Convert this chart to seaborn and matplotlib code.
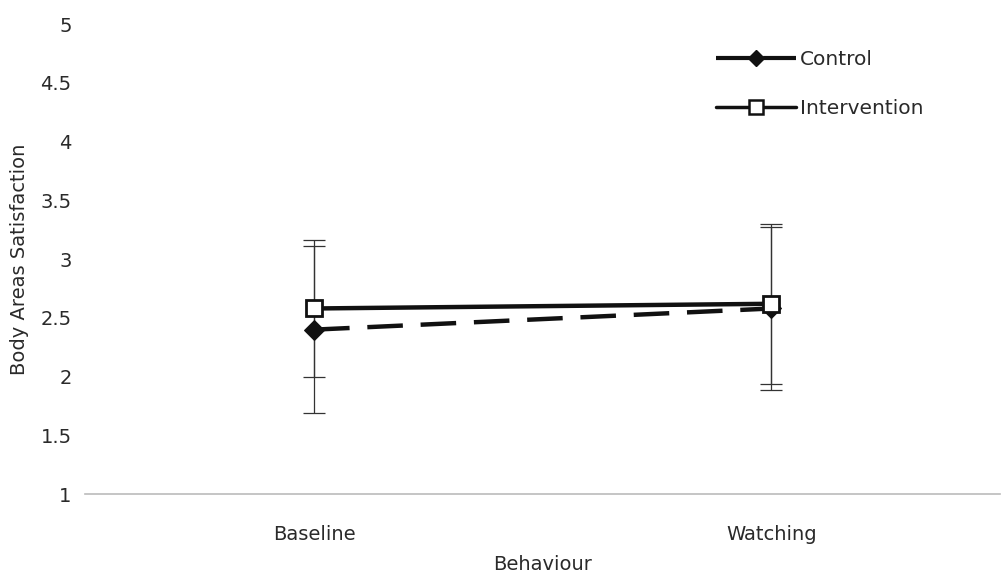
import matplotlib
matplotlib.use("Agg")
import matplotlib.pyplot as plt
import seaborn as sns
import pandas as pd
import numpy as np
from matplotlib.lines import Line2D

categories = ["Baseline", "Watching"]
control_mean = [2.40, 2.58]
control_sd = [0.71, 0.69]
intervention_mean = [2.58, 2.62]
intervention_sd = [0.58, 0.68]
yticks = [1, 1.5, 2, 2.5, 3, 3.5, 4, 4.5, 5]

sns.set_theme(style="white")
plt.rcParams['font.family'] = ['DejaVu Sans']

TXT = "#2a2a2a"
FS = 14

df = pd.DataFrame({
    "Behaviour": list(range(len(categories))) * 2,
    "value": control_mean + intervention_mean,
    "group": ["Control"] * 2 + ["Intervention"] * 2,
})

fig = plt.figure(figsize=(10.05, 5.72), dpi=100)
ax = fig.add_axes([0.085, 0.136, 0.91, 0.822])

x = np.arange(len(categories))
ax.errorbar(x, control_mean, yerr=control_sd, fmt="none", ecolor="#333333",
            elinewidth=0.9, capsize=8, capthick=0.9, zorder=1)
ax.errorbar(x, intervention_mean, yerr=intervention_sd, fmt="none", ecolor="#333333",
            elinewidth=0.9, capsize=8, capthick=0.9, zorder=1)

sns.lineplot(data=df[df.group == "Control"], x="Behaviour", y="value", ax=ax,
             color="#111111", linewidth=3.2, marker="D", markersize=10,
             markerfacecolor="#111111", markeredgecolor="#111111",
             legend=False, zorder=3)
ax.lines[-1].set_dashes([8, 4])
sns.lineplot(data=df[df.group == "Intervention"], x="Behaviour", y="value", ax=ax,
             color="#111111", linewidth=3.2, marker="s", markersize=12,
             markerfacecolor="white", markeredgecolor="#111111", markeredgewidth=2,
             legend=False, zorder=4)

ax.set_xlim(-0.5, 1.5)
ax.set_ylim(1, 5)
ax.set_yticks(yticks)
ax.set_yticklabels([f"{t:g}" for t in yticks], fontsize=FS, color=TXT)
ax.set_xticks(x)
ax.set_xticklabels(categories, fontsize=FS, color=TXT)
ax.tick_params(axis="x", length=0, pad=22)
ax.tick_params(axis="y", length=0, pad=10)
for s in ["top", "right", "left"]:
    ax.spines[s].set_visible(False)
ax.spines["bottom"].set_color("#bbbbbb")
ax.spines["bottom"].set_linewidth(1.2)
ax.set_xlabel("Behaviour", fontsize=FS, color=TXT, labelpad=8)
ax.set_ylabel("Body Areas Satisfaction", fontsize=FS, color=TXT, labelpad=8)
ax.grid(False)

handles = [
    Line2D([0], [0], color="#111111", linewidth=3, marker="D", markersize=8,
           markerfacecolor="#111111", dashes=[9.6, 1.7]),
    Line2D([0], [0], color="#111111", linewidth=2.5, marker="s", markersize=10,
           markerfacecolor="white", markeredgewidth=1.8),
]
leg = ax.legend(handles, ["Control", "Intervention"], loc="upper left",
                bbox_to_anchor=(0.689, 0.945), frameon=False, fontsize=14.5,
                handlelength=4.0, handletextpad=0.2, labelspacing=1.5,
                borderpad=0, borderaxespad=0)
for t in leg.get_texts():
    t.set_color(TXT)

fig.savefig("out.png", dpi=100)
